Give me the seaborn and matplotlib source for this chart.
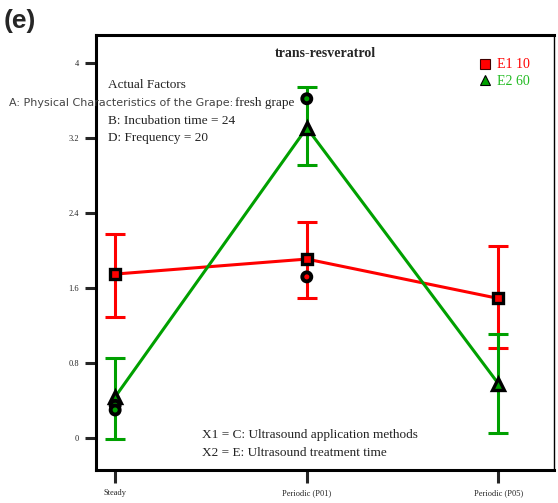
import matplotlib
matplotlib.use("Agg")
import matplotlib.pyplot as plt
import seaborn as sns
import pandas as pd
import numpy as np
from matplotlib.lines import Line2D

# ---- data ----
categories = ["Steady", "Periodic (P01)", "Periodic (P05)"]
e1_mean = [1.75, 1.91, 1.49]
e1_upper = [2.18, 2.31, 2.05]
e1_lower = [1.29, 1.50, 0.96]
e2_mean = [0.44, 3.31, 0.58]
e2_upper = [0.86, 3.74, 1.11]
e2_lower = [-0.01, 2.91, 0.06]
design_cat = ["Steady", "Steady", "Periodic (P01)", "Periodic (P01)"]
design_val = [0.35, 0.30, 3.62, 1.72]
design_series = ["E2", "E2", "E2", "E1"]
yticks = [0, 0.8, 1.6, 2.4, 3.2, 4]
ytick_labels = ["0", "0.8", "1.6", "2.4", "3.2", "4"]

sns.set_style("white")
plt.rcParams["font.family"] = ["Liberation Serif", "DejaVu Serif"]

RED = "#ff0000"
GREEN = "#00a000"

fig = plt.figure(figsize=(5.58, 5.03), dpi=100)
ax = fig.add_axes([96/558, 33/503, (554-96)/558, (470-35)/503])

pos = {c: i for i, c in enumerate(categories)}
df = pd.DataFrame({
    "x": [pos[c] for c in categories] * 2,
    "y": e1_mean + e2_mean,
    "series": ["E1"] * 3 + ["E2"] * 3,
})

# error bars
for mean, up, lo, col in [(e1_mean, e1_upper, e1_lower, RED), (e2_mean, e2_upper, e2_lower, GREEN)]:
    xs = np.arange(len(categories))
    m = np.array(mean); u = np.array(up); l = np.array(lo)
    ax.errorbar(xs, m, yerr=[m - l, u - m], fmt="none", ecolor=col,
                elinewidth=2.2, capsize=7.5, capthick=2.2, zorder=2)

sns.lineplot(data=df[df.series == "E1"], x="x", y="y", color=RED, lw=2.2,
             marker="s", markersize=7.5, markerfacecolor=RED, markeredgecolor="black",
             markeredgewidth=2.4, ax=ax, zorder=3)
sns.lineplot(data=df[df.series == "E2"], x="x", y="y", color=GREEN, lw=2.2,
             marker="^", markersize=8.5, markerfacecolor=GREEN, markeredgecolor="black",
             markeredgewidth=2.4, ax=ax, zorder=4)

dd = pd.DataFrame({"x": [pos[c] for c in design_cat], "y": design_val, "s": design_series})
sns.scatterplot(data=dd, x="x", y="y", hue="s", palette={"E1": RED, "E2": GREEN},
                marker="o", s=42, edgecolor="black", linewidth=2.8, legend=False,
                ax=ax, zorder=5)

ax.set_xlim(-0.1, 2.29)
ax.set_ylim(-0.34, 4.30)
ax.set_xticks(range(len(categories)))
ax.set_xticklabels(categories, fontsize=6)
ax.set_yticks(yticks)
ax.set_yticklabels(ytick_labels, fontsize=6)
ax.set_xlabel("")
ax.set_ylabel("")
ax.tick_params(axis="y", direction="out", length=8, width=2.2, pad=4, left=True)
ax.tick_params(axis="x", direction="out", length=9, width=2.2, pad=5, bottom=True)
for side in ["left", "bottom", "top"]:
    ax.spines[side].set_linewidth(2.2)
    ax.spines[side].set_color("black")
ax.spines["right"].set_linewidth(1.0)
ax.spines["right"].set_color("black")

ax.set_title("trans-resveratrol", fontsize=10, fontweight="bold", pad=-16, y=1.0)

# legend
handles = [
    Line2D([], [], ls="none", marker="s", markersize=6.5, markerfacecolor=RED, markeredgecolor="#400000", markeredgewidth=0.8),
    Line2D([], [], ls="none", marker="^", markersize=7, markerfacecolor=GREEN, markeredgecolor="black", markeredgewidth=0.8),
]
leg = ax.legend(handles, ["E1 10", "E2 60"], loc="upper right", bbox_to_anchor=(0.975, 0.975),
                frameon=False, fontsize=10, handlelength=0.8, handletextpad=0.5, labelspacing=0.25)
for t, c in zip(leg.get_texts(), [RED, "#22bb22"]):
    t.set_color(c)

# annotation texts (figure pixel coordinates)
def fx(px):
    return px / 558
def fy(py):
    return 1 - py / 503

fig.text(fx(108), fy(85), "Actual Factors", fontsize=9.5, va="center", ha="left", color="#222222")
fig.text(fx(233), fy(103), "A: Physical Characteristics of the Grape:", fontsize=8.0,
         va="center", ha="right", color="#444444", family=["DejaVu Sans"])
fig.text(fx(235), fy(103), "fresh grape", fontsize=9.5, va="center", ha="left", color="#222222")
fig.text(fx(108), fy(121), "B: Incubation time = 24", fontsize=9.5, va="center", ha="left", color="#222222")
fig.text(fx(108), fy(138), "D: Frequency = 20", fontsize=9.5, va="center", ha="left", color="#222222")
fig.text(fx(202), fy(435), "X1 = C: Ultrasound application methods", fontsize=9.5, va="center", ha="left", color="#222222")
fig.text(fx(202), fy(453), "X2 = E: Ultrasound treatment time", fontsize=9.5, va="center", ha="left", color="#222222")

fig.text(fx(4), fy(21), "(e)", fontsize=19, fontweight="bold", va="center", ha="left",
         family=["Liberation Sans", "DejaVu Sans"])

fig.savefig("out.png", dpi=100)
